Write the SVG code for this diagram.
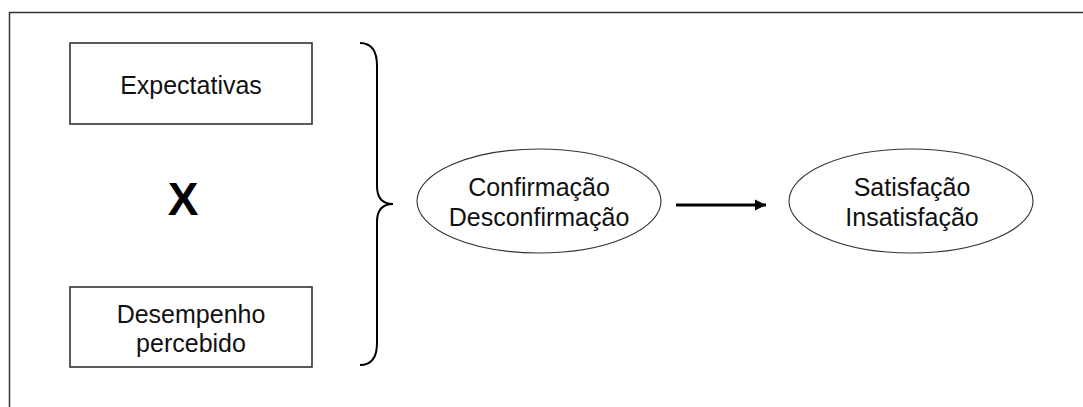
<svg xmlns="http://www.w3.org/2000/svg" width="1083" height="407" viewBox="0 0 1083 407">
<style>
.t{font-family:"Liberation Sans",Arial,sans-serif;font-size:25px;fill:#111;text-anchor:middle}
.box{fill:#fff;stroke:#333;stroke-width:1.6}
.ell{fill:#fff;stroke:#333;stroke-width:1.1}
</style>
<defs>
<marker id="ah" markerWidth="5" markerHeight="5" refX="3.8" refY="2" orient="auto" markerUnits="strokeWidth">
<path d="M0,0.1 L3.8,2 L0,3.9 Z" fill="#000"/>
</marker>
</defs>
<rect width="1083" height="407" fill="#fff"/>
<path d="M9.5,407 V12.5 H1083" fill="none" stroke="#333" stroke-width="1.5"/>
<g id="expectativas">
<rect class="box" x="70" y="43" width="242" height="81"/>
<text class="t" x="191" y="94">Expectativas</text>
</g>
<g id="x-label">
<text x="183" y="215" style="font-family:'Liberation Sans',Arial,sans-serif;font-size:46px;font-weight:bold;text-anchor:middle" fill="#000">X</text>
</g>
<g id="desempenho">
<rect class="box" x="70" y="287" width="242" height="80"/>
<text class="t" x="191" y="323">Desempenho</text>
<text class="t" x="191" y="352">percebido</text>
</g>
<g id="brace">
<path d="M360,43 C372,43 377,52 377,66 V186 C377,198 383,204 393,204 C383,204 377,210 377,222 V343 C377,357 372,365 360,365" fill="none" stroke="#000" stroke-width="2"/>
</g>
<g id="confirmacao">
<ellipse class="ell" cx="539" cy="201" rx="122" ry="52"/>
<text class="t" x="539" y="196">Confirmação</text>
<text class="t" x="539" y="226">Desconfirmação</text>
</g>
<g id="satisfacao">
<ellipse class="ell" cx="911" cy="201" rx="122" ry="52"/>
<text class="t" x="912" y="196">Satisfação</text>
<text class="t" x="912" y="226">Insatisfação</text>
</g>
<g id="connectors">
<line x1="676" y1="205" x2="766" y2="205" stroke="#000" stroke-width="3" marker-end="url(#ah)"/>
</g>
</svg>
